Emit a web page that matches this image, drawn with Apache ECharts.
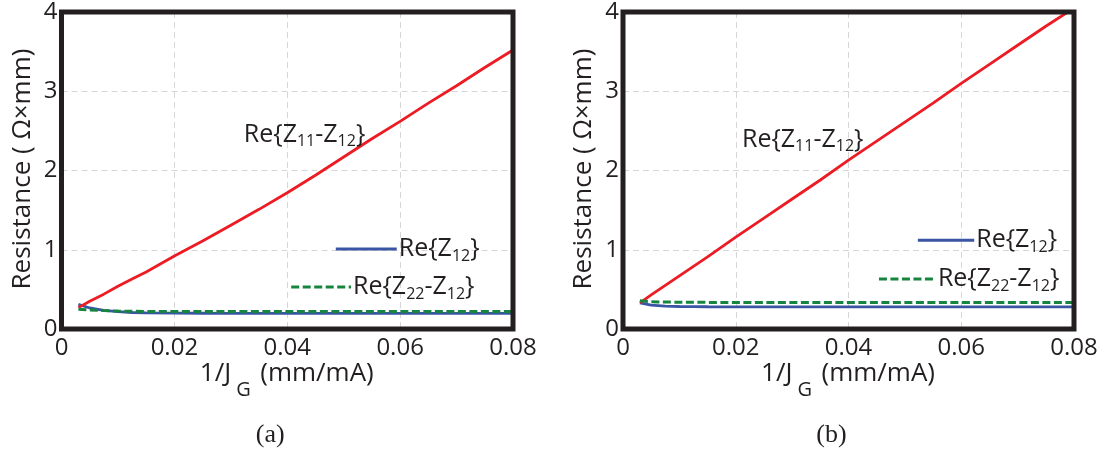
<!DOCTYPE html>
<html><head><meta charset="utf-8">
<script src="https://cdn.jsdelivr.net/npm/echarts@6/dist/echarts.min.js"></script>
<style>html,body{margin:0;padding:0;background:#fff}#c{width:1107px;height:457px}</style>
</head><body><div id="c"></div>
<script>
// ---- data ----
const xTicks = [0, 0.02, 0.04, 0.06, 0.08];
const yTicks = [0, 1, 2, 3, 4];
const xVals = [0.003, 0.005, 0.0075, 0.01, 0.0125, 0.015, 0.02, 0.025, 0.03, 0.035, 0.04, 0.045, 0.05, 0.055, 0.06, 0.065, 0.07, 0.075, 0.08];
// panel (a)
const redA   = [0.27, 0.35, 0.44, 0.54, 0.63, 0.72, 0.92, 1.11, 1.31, 1.51, 1.72, 1.94, 2.17, 2.40, 2.62, 2.85, 3.07, 3.30, 3.52];
const blueA  = [0.31, 0.265, 0.235, 0.218, 0.208, 0.203, 0.200, 0.199, 0.198, 0.198, 0.198, 0.198, 0.198, 0.198, 0.198, 0.198, 0.198, 0.198, 0.198];
const greenA = [0.25, 0.240, 0.232, 0.226, 0.223, 0.222, 0.221, 0.220, 0.220, 0.220, 0.220, 0.220, 0.220, 0.220, 0.220, 0.220, 0.220, 0.220, 0.220];
// panel (b)
const redB   = [0.33, 0.43, 0.55, 0.67, 0.79, 0.91, 1.16, 1.40, 1.64, 1.88, 2.13, 2.37, 2.61, 2.85, 3.10, 3.34, 3.58, 3.82, 4.05];
const blueB  = [0.33, 0.300, 0.288, 0.284, 0.282, 0.281, 0.280, 0.280, 0.280, 0.280, 0.280, 0.280, 0.280, 0.280, 0.280, 0.280, 0.280, 0.280, 0.280];
const greenB = [0.355, 0.345, 0.340, 0.338, 0.337, 0.336, 0.335, 0.335, 0.335, 0.335, 0.335, 0.335, 0.335, 0.335, 0.335, 0.335, 0.335, 0.335, 0.335];
const yTitle = 'Resistance ( Ω×mm)';
const panelLabels = ['(a)', '(b)'];

// ---- style ----
const INK = '#231f20', RED = '#ed1c24', BLUE = '#3a55a4', GREEN = '#16853f';
const FONT = 'Open Sans';
const pair = (ys) => xVals.map((x, i) => [x, ys[i]]);

const chart = echarts.init(document.getElementById('c'), null, {renderer: 'canvas'});
const grids = [
  {left: 61.5, top: 7.5, width: 451.5, height: 321.5},
  {left: 623, top: 7.5, width: 451, height: 321.5}
];
function xAxis(gi) {
  return {type: 'value', gridIndex: gi, min: xTicks[0], max: xTicks[xTicks.length - 1], interval: 0.02,
    axisLine: {show: false}, axisTick: {show: false},
    axisLabel: {fontSize: 24, fontFamily: FONT, color: INK, margin: 7,
      formatter: v => (Math.abs(v) < 1e-9 ? '0' : v.toFixed(2))},
    splitLine: {show: true, lineStyle: {color: '#d6d6d6', width: 1, type: [6, 4]}}};
}
function yAxis(gi) {
  return {type: 'value', gridIndex: gi, min: yTicks[0], max: yTicks[yTicks.length - 1], interval: 1,
    axisLine: {show: false}, axisTick: {show: false},
    axisLabel: {fontSize: 24, fontFamily: FONT, color: INK, margin: 4, formatter: v => String(v)},
    splitLine: {show: true, lineStyle: {color: '#d6d6d6', width: 1, type: [6, 4]}}};
}
function line(gi, ys, color, dashed) {
  return {type: 'line', xAxisIndex: gi, yAxisIndex: gi, data: pair(ys), showSymbol: false, symbol: 'none',
    clip: true, z: dashed ? 4 : 3,
    lineStyle: {color: color, width: dashed ? 3 : 2.8, type: dashed ? [8, 3.5] : 'solid'}};
}
chart.setOption({
  animation: false,
  grid: grids,
  xAxis: [xAxis(0), xAxis(1)],
  yAxis: [yAxis(0), yAxis(1)],
  series: [
    line(0, blueA, BLUE, false), line(0, greenA, GREEN, true), line(0, redA, RED, false),
    line(1, blueB, BLUE, false), line(1, greenB, GREEN, true), line(1, redB, RED, false)
  ]
});

// ---- annotations placed through the axes ----
const annot = [
  {red: [0.0323, 2.45], blue: [0.0486, 0.0594, 1.01], green: [0.0407, 0.0513, 0.53]},
  {red: [0.0211, 2.39], blue: [0.0523, 0.0623, 1.12], green: [0.0454, 0.0555, 0.63]}
];
const subRich = {s: {fontSize: 16, fontFamily: FONT, fill: INK, padding: [14, 0, 0, 0]}};
function richText(x, y, text, align) {
  return {type: 'text', x: x, y: y, z: 50,
    style: {text: text, fontSize: 25, fontFamily: FONT, fill: INK, lineHeight: 32,
      align: align || 'left', verticalAlign: 'middle', rich: subRich}};
}
const els = [];
[0, 1].forEach(gi => {
  const P = (x, y) => chart.convertToPixel({gridIndex: gi}, [x, y]);
  const tl = P(xTicks[0], yTicks[yTicks.length - 1]);
  const br = P(xTicks[xTicks.length - 1], yTicks[0]);
  // frame
  els.push({type: 'rect', z: 100, shape: {x: tl[0], y: tl[1], width: br[0] - tl[0], height: br[1] - tl[1]},
    style: {fill: null, stroke: INK, lineWidth: 5}});
  const a = annot[gi];
  const rp = P(a.red[0], a.red[1]);
  els.push(richText(rp[0], rp[1], 'Re{Z{s|11}-Z{s|12}}'));
  const b1 = P(a.blue[0], a.blue[2]), b2 = P(a.blue[1], a.blue[2]);
  els.push({type: 'line', z: 50, shape: {x1: b1[0], y1: b1[1], x2: b2[0], y2: b2[1]}, style: {stroke: BLUE, lineWidth: 3}});
  els.push(richText(b2[0] + 2, b2[1], 'Re{Z{s|12}}'));
  const g1 = P(a.green[0], a.green[2]), g2 = P(a.green[1], a.green[2]);
  els.push({type: 'line', z: 50, shape: {x1: g1[0], y1: g1[1], x2: g2[0], y2: g2[1]}, style: {stroke: GREEN, lineWidth: 3, lineDash: [8, 3.5]}});
  els.push(richText(g2[0] + 2, g2[1], 'Re{Z{s|22}-Z{s|12}}'));
  // axis titles: main part and dropped subscript G as separate texts
  const cx = (tl[0] + br[0]) / 2;
  els.push({type: 'text', x: cx - 56, y: 374, z: 50,
    style: {text: '1/J', fontSize: 26, fontFamily: FONT, fill: INK, align: 'right', verticalAlign: 'middle'}});
  els.push({type: 'text', x: cx - 51, y: 390, z: 50,
    style: {text: 'G', fontSize: 20, fontFamily: FONT, fill: INK, align: 'left', verticalAlign: 'middle'}});
  els.push({type: 'text', x: cx - 27, y: 374, z: 50,
    style: {text: '(mm/mA)', fontSize: 26, fontFamily: FONT, fill: INK, align: 'left', verticalAlign: 'middle'}});
  els.push({type: 'text', x: tl[0] - 39, y: 169, z: 50, rotation: Math.PI / 2,
    style: {text: yTitle, fontSize: 26, fontFamily: FONT, fill: INK, align: 'center', verticalAlign: 'middle'}});
  els.push({type: 'text', x: cx - 17, y: 435, z: 50,
    style: {text: panelLabels[gi], fontSize: 26, fontFamily: 'Liberation Serif', fill: INK, align: 'center', verticalAlign: 'middle'}});
});
chart.setOption({graphic: els});
</script>
</body></html>
